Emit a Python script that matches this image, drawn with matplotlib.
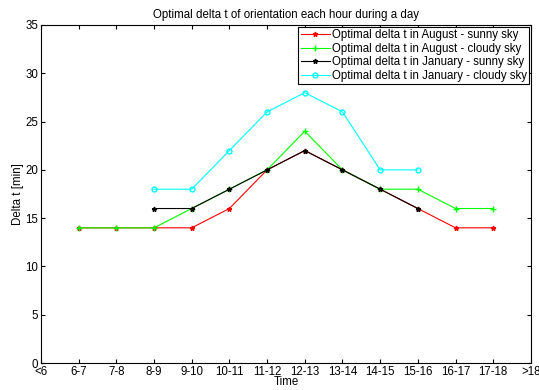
import matplotlib
matplotlib.use("Agg")
import matplotlib.pyplot as plt
import numpy as np

plt.rcParams['font.family'] = ['Liberation Sans', 'DejaVu Sans']

hours = ['<6', '6-7', '7-8', '8-9', '9-10', '10-11', '11-12', '12-13',
         '13-14', '14-15', '15-16', '16-17', '17-18', '>18']

# positions are indexes into hours
aug_x = [1, 2, 3, 4, 5, 6, 7, 8, 9, 10, 11, 12]
aug_sunny = [14, 14, 14, 14, 16, 20, 22, 20, 18, 16, 14, 14]
aug_cloudy = [14, 14, 14, 16, 18, 20, 24, 20, 18, 18, 16, 16]
jan_x = [3, 4, 5, 6, 7, 8, 9, 10]
jan_sunny = [16, 16, 18, 20, 22, 20, 18, 16]
jan_cloudy = [18, 18, 22, 26, 28, 26, 20, 20]

fs = 8.3

fig = plt.figure(figsize=(5.39, 3.9), dpi=100)
ax = fig.add_axes([0.076, 0.069, 0.909, 0.867])

ax.plot(aug_x, aug_sunny, color='red', marker='*', markersize=3.5, linewidth=0.8,
        label='Optimal delta t in August - sunny sky')
ax.plot(aug_x, aug_cloudy, color='#00ff00', marker='+', markersize=4, linewidth=0.8,
        label='Optimal delta t in August - cloudy sky')
ax.plot(jan_x, jan_sunny, color='black', marker='*', markersize=3.5, linewidth=0.8,
        label='Optimal delta t in January - sunny sky')
ax.plot(jan_x, jan_cloudy, color='cyan', marker='o', markersize=3.5, linewidth=0.8,
        markerfacecolor='none', label='Optimal delta t in January - cloudy sky')

ax.set_xlim(0, 13)
ax.set_ylim(0, 35)
ax.set_xticks(np.arange(len(hours)))
ax.set_xticklabels(hours)
ax.set_yticks(np.arange(0, 36, 5))
ax.tick_params(direction='in', top=True, right=True, labelsize=fs, length=3, pad=2)
for s in ax.spines.values():
    s.set_linewidth(0.8)

ax.set_title('Optimal delta t of orientation each hour during a day', fontsize=fs, pad=5)
ax.set_xlabel('Time', fontsize=fs, labelpad=-1)
ax.set_ylabel('Delta t [min]', fontsize=fs, labelpad=1)

leg = ax.legend(loc='upper right', fontsize=fs, fancybox=False, framealpha=1,
                edgecolor='black', borderpad=0.2, labelspacing=0.15,
                handlelength=2.5, handletextpad=0.2, borderaxespad=0.15)
leg.get_frame().set_linewidth(0.8)

fig.savefig('out.png', dpi=100)
